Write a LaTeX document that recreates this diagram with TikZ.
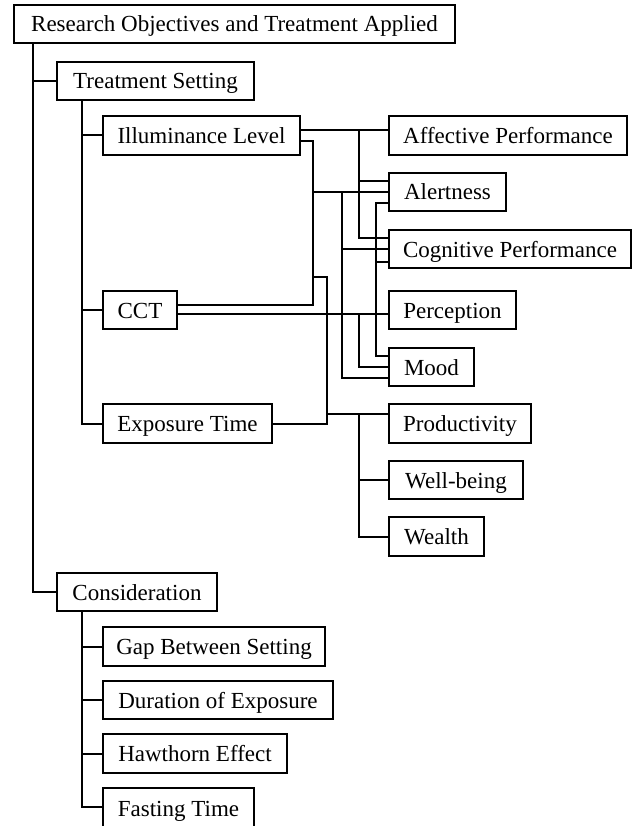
\documentclass[tikz,border=0pt]{standalone}
\usepackage{fontspec}
\setmainfont{Liberation Serif}
\usetikzlibrary{calc}
\begin{document}
\begin{tikzpicture}[x=1pt,y=-1pt,
  box/.style={draw,line width=2pt,rectangle,inner sep=0pt,align=center,
    text height=20pt,text depth=4pt,
    font=\fontsize{23}{27}\selectfont},
  conn/.style={draw,line width=2pt}]
\useasboundingbox (0,0) rectangle (638,826);
\begin{scope}
\clip (0,0) rectangle (638,826);
% boxes
\node[box,minimum width=441pt,minimum height=38pt] (root) at (234.5,24) {Research Objectives and Treatment Applied};
\node[box,minimum width=197pt,minimum height=38pt] (ts) at (155.5,81) {Treatment Setting};
\node[box,minimum width=197pt,minimum height=39pt] (il) at (201.5,135.5) {Illuminance Level};
\node[box,minimum width=74pt,minimum height=38pt] (cct) at (140,310) {CCT};
\node[box,minimum width=169pt,minimum height=39pt] (et) at (187.5,423.5) {Exposure Time};
\node[box,minimum width=238pt,minimum height=39pt] (aff) at (508,135.5) {Affective Performance};
\node[box,minimum width=117pt,minimum height=38pt] (ale) at (447.5,192) {Alertness};
\node[box,minimum width=242pt,minimum height=38pt] (cog) at (510,249) {Cognitive Performance};
\node[box,minimum width=127pt,minimum height=38pt] (per) at (452.5,310) {Perception};
\node[box,minimum width=85pt,minimum height=38pt] (mood) at (431.5,367) {Mood};
\node[box,minimum width=142pt,minimum height=39pt] (prod) at (460,423.5) {Productivity};
\node[box,minimum width=134pt,minimum height=38pt] (well) at (456,480) {Well-being};
\node[box,minimum width=95pt,minimum height=39pt] (wealth) at (436.5,536.5) {Wealth};
\node[box,minimum width=160pt,minimum height=38pt] (cons) at (137,592) {Consideration};
\node[box,minimum width=222pt,minimum height=39pt] (gap) at (214,646.5) {Gap Between Setting};
\node[box,minimum width=230pt,minimum height=38pt] (dur) at (218,700) {Duration of Exposure};
\node[box,minimum width=184pt,minimum height=39pt] (haw) at (195,753.5) {Hawthorn Effect};
\node[box,minimum width=151pt,minimum height=40pt] (fast) at (178.5,808) {Fasting Time};
% bus coordinates
\coordinate (t1) at (33,0);
\coordinate (t2) at (82,0);
\coordinate (jA) at (359,0);
\coordinate (jB) at (313,0);
\coordinate (jC) at (342,0);
\coordinate (jD) at (376,0);
\coordinate (jE) at (327,0);
\coordinate (k1) at (313,277);
% main trunk
\draw[conn] (root.south -| t1) |- (cons.west);
\draw[conn] (t1 |- ts.west) -- (ts.west);
% treatment setting children
\draw[conn] (ts.south -| t2) |- (et.west);
\draw[conn] (t2 |- il.west) -- (il.west);
\draw[conn] (t2 |- cct.west) -- (cct.west);
% consideration children
\draw[conn] (cons.south -| t2) |- ([yshift=1pt]fast.west);
\draw[conn] (t2 |- gap.west) -- (gap.west);
\draw[conn] (t2 |- dur.west) -- (dur.west);
\draw[conn] (t2 |- haw.west) -- (haw.west);
% illuminance level
\draw[conn] ([yshift=5pt]il.east) -- ([yshift=5pt]aff.west);
\draw[conn] ([yshift=5pt]il.east -| jA) |- ([yshift=11pt]cog.west);
\draw[conn] ([yshift=11pt]ale.west -| jA) -- ([yshift=11pt]ale.west);
\draw[conn] ([yshift=-5.5pt]il.east) -| ([yshift=5pt]cct.east -| jB) -- ([yshift=5pt]cct.east);
\draw[conn] (jB |- ale.west) -- (ale.west);
\draw[conn] (jC |- ale.west) |- ([yshift=-11pt]mood.west);
\draw[conn] (jC |- cog.west) -- (cog.west);
\draw[conn] ([yshift=-11pt]ale.west) -| ([yshift=11pt]mood.west -| jD) -- ([yshift=11pt]mood.west);
\draw[conn] ([yshift=-13pt]cog.west -| jD) -- ([yshift=-13pt]cog.west);
% CCT
\draw[conn] ([yshift=-4pt]cct.east) -- ([yshift=-4pt]cct.east -| per.west);
\draw[conn] ([yshift=-4pt]cct.east -| jA) |- (mood.west);
% exposure time
\draw[conn] (et.east) -| (k1 -| jE) -- (k1);
\draw[conn] ([yshift=10pt]prod.west -| jE) -- ([yshift=10pt]prod.west);
\draw[conn] ([yshift=10pt]prod.west -| jA) |- (wealth.west);
\draw[conn] (jA |- well.west) -- (well.west);
\end{scope}
\end{tikzpicture}
\end{document}
